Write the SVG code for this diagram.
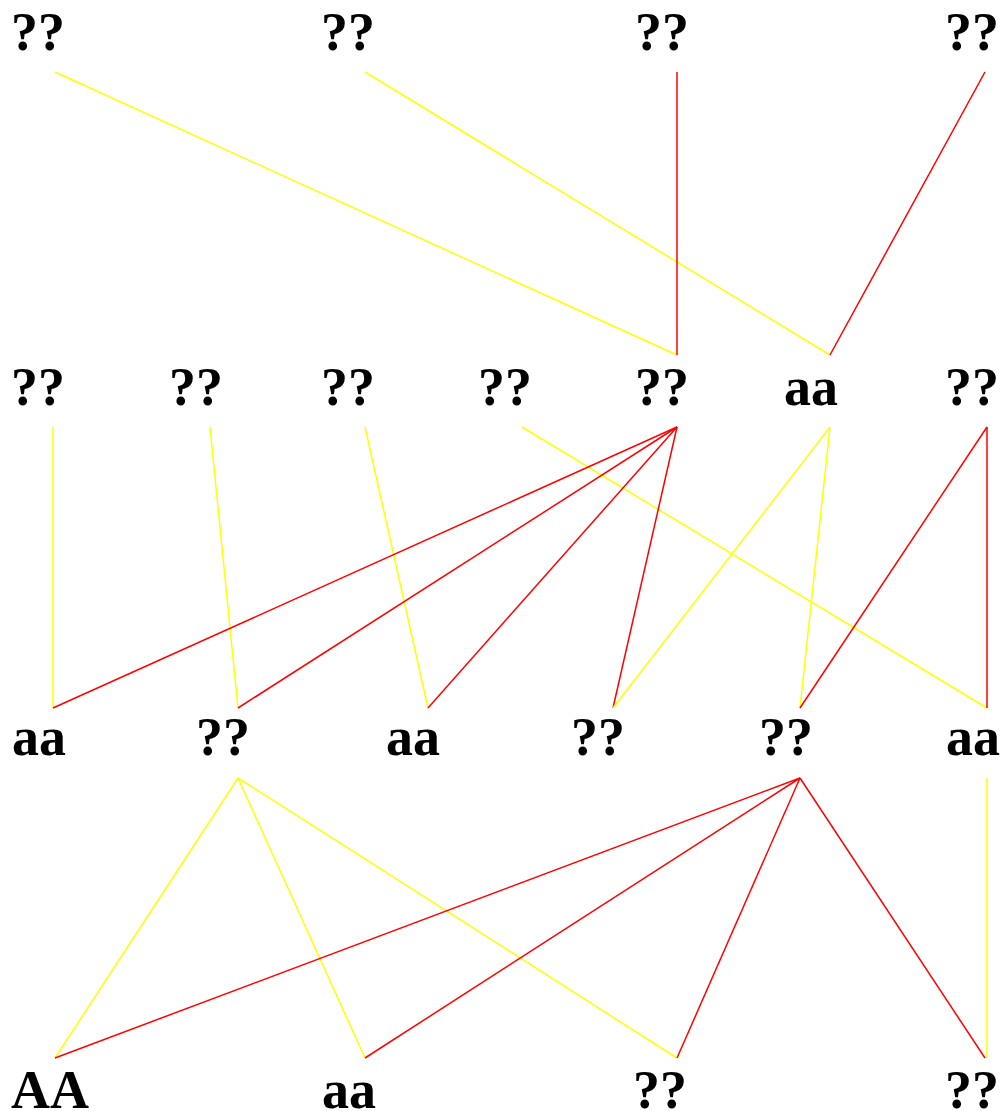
<svg xmlns="http://www.w3.org/2000/svg" width="1002" height="1111" viewBox="0 0 1002 1111">
<style>
.t{font-family:"Liberation Serif","Times New Roman",serif;font-weight:bold;font-size:54px;fill:#000}
.y{stroke:#ffff00;stroke-width:1.5;fill:none}
.r{stroke:#ff0000;stroke-width:1.5;fill:none}
</style>
<rect width="1002" height="1111" fill="#fff"/>
<g id="connectors">
<line class="y" x1="55" y1="72" x2="677" y2="355"/>
<line class="y" x1="365" y1="72" x2="830" y2="355"/>
<line class="r" x1="677" y1="72" x2="677" y2="355"/>
<line class="r" x1="985" y1="72" x2="830" y2="355"/>
<line class="y" x1="53" y1="427" x2="53" y2="708"/>
<line class="y" x1="210" y1="427" x2="238" y2="708"/>
<line class="y" x1="365" y1="427" x2="428" y2="708"/>
<line class="y" x1="522" y1="427" x2="987" y2="708"/>
<line class="r" x1="677" y1="427" x2="53" y2="708"/>
<line class="r" x1="677" y1="427" x2="238" y2="708"/>
<line class="r" x1="677" y1="427" x2="428" y2="708"/>
<line class="r" x1="677" y1="427" x2="613" y2="708"/>
<line class="y" x1="830" y1="427" x2="613" y2="708"/>
<line class="y" x1="830" y1="427" x2="800" y2="708"/>
<line class="r" x1="987" y1="427" x2="800" y2="708"/>
<line class="r" x1="987" y1="427" x2="987" y2="708"/>
<line class="y" x1="238" y1="778" x2="55" y2="1058"/>
<line class="y" x1="238" y1="778" x2="365" y2="1058"/>
<line class="y" x1="238" y1="778" x2="677" y2="1058"/>
<line class="r" x1="800" y1="778" x2="55" y2="1058"/>
<line class="r" x1="800" y1="778" x2="365" y2="1058"/>
<line class="r" x1="800" y1="778" x2="677" y2="1058"/>
<line class="r" x1="800" y1="778" x2="985" y2="1058"/>
<line class="y" x1="987" y1="778" x2="987" y2="1058"/>
</g>
<g id="n1"><text class="t" x="11" y="50">??</text></g>
<g id="n2"><text class="t" x="321" y="50">??</text></g>
<g id="n3"><text class="t" x="635" y="50">??</text></g>
<g id="n4"><text class="t" x="945" y="50">??</text></g>
<g id="n5"><text class="t" x="11" y="405">??</text></g>
<g id="n6"><text class="t" x="169" y="405">??</text></g>
<g id="n7"><text class="t" x="321" y="405">??</text></g>
<g id="n8"><text class="t" x="478" y="405">??</text></g>
<g id="n9"><text class="t" x="635" y="405">??</text></g>
<g id="n10"><text class="t" x="784" y="405">aa</text></g>
<g id="n11"><text class="t" x="945" y="405">??</text></g>
<g id="n12"><text class="t" x="12" y="755">aa</text></g>
<g id="n13"><text class="t" x="196" y="755">??</text></g>
<g id="n14"><text class="t" x="386" y="755">aa</text></g>
<g id="n15"><text class="t" x="571" y="755">??</text></g>
<g id="n16"><text class="t" x="759" y="755">??</text></g>
<g id="n17"><text class="t" x="946" y="755">aa</text></g>
<g id="n18"><text class="t" x="11" y="1108">AA</text></g>
<g id="n19"><text class="t" x="322" y="1108">aa</text></g>
<g id="n20"><text class="t" x="633" y="1108">??</text></g>
<g id="n21"><text class="t" x="945" y="1108">??</text></g>
</svg>
